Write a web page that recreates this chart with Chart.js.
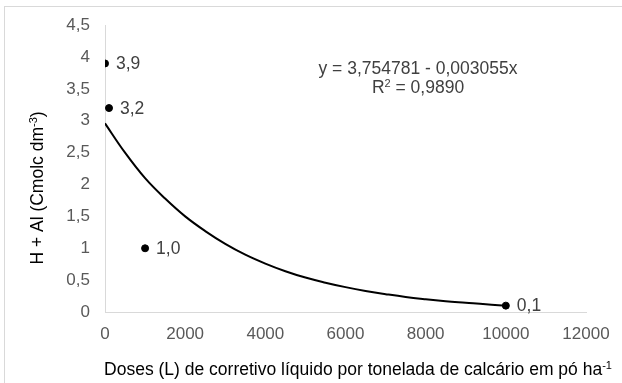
<!DOCTYPE html>
<html>
<head>
<meta charset="utf-8">
<script src="https://cdn.jsdelivr.net/npm/chart.js@4.4.1/dist/chart.umd.min.js"></script>
<style>
  html,body{margin:0;padding:0;background:#fff;}
  #wrap{width:622px;height:383px;position:relative;}
</style>
</head>
<body>
<div id="wrap"><canvas id="c" width="622" height="383"></canvas></div>
<script>
// observed points
const doses=[0,100,1000,10000];
const hal=[3.9,3.2,1.0,0.1];
const pointLabels=['3,9','3,2','1,0','0,1'];

// fitted curve
const curveX=[0,500,1000,1500,2000,2500,3000,3500,4000,4500,5000,5500,6000,6500,7000,7500,8000,8500,9000,9500,10000];
const curveY=[2.96,2.50,2.10,1.78,1.50,1.27,1.07,0.90,0.76,0.64,0.54,0.46,0.39,0.33,0.28,0.235,0.20,0.17,0.145,0.12,0.10];

const eqText='y = 3,754781 - 0,003055x';
const r2Text=['R','2',' = 0,9890'];
const xTitle=['Doses (L) de corretivo líquido por tonelada de calcário em pó ha','-1',''];
const yTitle=['H + Al (Cmolc dm','-3',')'];
const font='"Liberation Sans", Arial, sans-serif';
const FS=17.5, SS=11;

// base + superscript + tail, centred on x
function supText(ctx,parts,x,y){
  ctx.font=FS+'px '+font;
  const wb=ctx.measureText(parts[0]).width, wt=ctx.measureText(parts[2]).width;
  ctx.font=SS+'px '+font;
  const ws=ctx.measureText(parts[1]).width;
  const x0=x-(wb+ws+wt)/2;
  ctx.textAlign='left';
  ctx.font=FS+'px '+font;
  ctx.fillText(parts[0],x0,y);
  ctx.fillText(parts[2],x0+wb+ws,y);
  ctx.font=SS+'px '+font;
  ctx.fillText(parts[1],x0+wb,y-FS*0.36);
}

const extras={
  id:'extras',
  beforeDraw(chart){
    const ctx=chart.ctx;
    ctx.save();
    ctx.strokeStyle='#d9d9d9';
    ctx.lineWidth=1;
    ctx.strokeRect(4.5,6.5,700,500);
    ctx.restore();
  },
  afterDraw(chart){
    const ctx=chart.ctx, xs=chart.scales.x, ys=chart.scales.y;
    ctx.save();
    ctx.fillStyle='#404040';
    ctx.textBaseline='middle';
    ctx.font=FS+'px '+font;
    ctx.textAlign='left';
    doses.forEach((d,i)=>{
      ctx.fillText(pointLabels[i],xs.getPixelForValue(d)+11,ys.getPixelForValue(hal[i])+1);
    });
    ctx.textBaseline='alphabetic';
    ctx.textAlign='center';
    ctx.fillText(eqText,418,74);
    supText(ctx,r2Text,418,93);
    ctx.fillStyle='#000';
    supText(ctx,xTitle,358,375);
    ctx.translate(43,188);
    ctx.rotate(-Math.PI/2);
    supText(ctx,yTitle,0,0);
    ctx.restore();
  }
};

const fmt=v=>String(v).replace('.',',');

new Chart(document.getElementById('c'),{
  type:'scatter',
  data:{
    datasets:[
      {label:'curve',data:curveX.map((x,i)=>({x,y:curveY[i]})),showLine:true,
       borderColor:'#000',borderWidth:2,pointRadius:0,tension:0.4,fill:false},
      {label:'obs',data:doses.map((x,i)=>({x,y:hal[i]})),
       backgroundColor:'#000',borderColor:'#000',pointRadius:3.5}
    ]
  },
  plugins:[extras],
  options:{
    responsive:false,animation:false,
    layout:{padding:{top:23,right:36,left:0,bottom:0}},
    plugins:{legend:{display:false},tooltip:{enabled:false}},
    scales:{
      x:{type:'linear',min:0,max:12000,
        ticks:{stepSize:2000,color:'#595959',font:{family:font,size:17},padding:12,callback:v=>String(v)},
        grid:{display:false,drawTicks:false},
        border:{color:'#d9d9d9'},
        afterFit(s){s.height=71;}
      },
      y:{min:0,max:4.5,
        ticks:{stepSize:0.5,color:'#595959',font:{family:font,size:17},padding:15,callback:v=>fmt(v)},
        grid:{display:false,drawTicks:false},
        border:{color:'#d9d9d9'},
        afterFit(s){s.width=105;}
      }
    }
  }
});
</script>
</body>
</html>
